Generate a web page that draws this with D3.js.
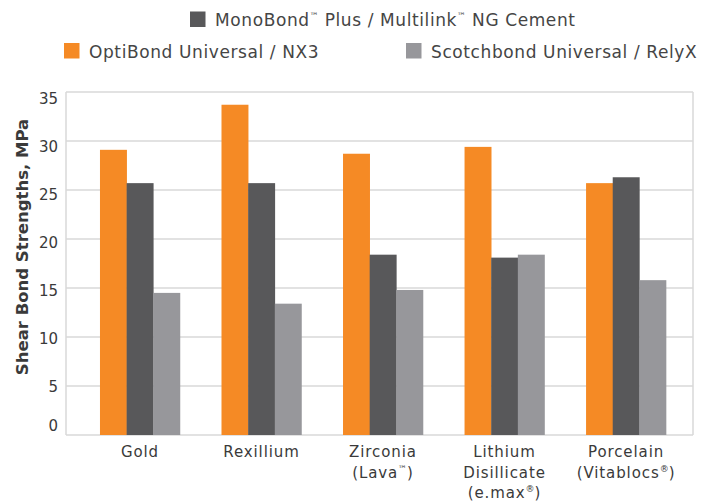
<!DOCTYPE html>
<html><head><meta charset="utf-8">
<script src="https://cdn.jsdelivr.net/npm/d3@7"></script>
<style>
html,body{margin:0;padding:0;background:#fff;}
svg{display:block;}
text{font-family:"DejaVu Sans","Open Sans",sans-serif;}
</style></head>
<body>
<script>
const categories = ["Gold","Rexillium","Zirconia (Lava™)","Lithium Disillicate (e.max®)","Porcelain (Vitablocs®)"];
const seriesNames = ["OptiBond Universal / NX3","MonoBond™ Plus / Multilink™ NG Cement","Scotchbond Universal / RelyX"];
const optiBond = [29.1, 33.7, 28.7, 29.4, 25.7];
const monoBond = [25.7, 25.7, 18.4, 18.1, 26.3];
const scotchbond = [14.5, 13.4, 14.8, 18.4, 15.8];
const yTicks = [0,5,10,15,20,25,30,35];
const colors = ["#F58A25","#58585A","#97979B"];

const W=711,H=504;
const svg=d3.select("body").append("svg").attr("width",W).attr("height",H);
const plot={left:66,right:693,top:92,bottom:435};
const y=d3.scaleLinear().domain([0,35]).range([plot.bottom,plot.top]);
const x=d3.scaleBand().domain(categories).range([78.1,687.9]).paddingInner(0.342).paddingOuter(0.18);
const xs=d3.scaleBand().domain([0,1,2]).range([0,x.bandwidth()]);
const grid="#d9d9d9";

// gridlines
svg.append("g").selectAll("line").data(yTicks).join("line")
 .attr("x1",plot.left).attr("x2",plot.right).attr("y1",d=>y(d)).attr("y2",d=>y(d))
 .attr("stroke",grid).attr("stroke-width",1.5);
// frame sides
svg.append("line").attr("x1",plot.left).attr("x2",plot.left).attr("y1",plot.top).attr("y2",plot.bottom).attr("stroke",grid).attr("stroke-width",1.5);
svg.append("line").attr("x1",plot.right).attr("x2",plot.right).attr("y1",plot.top).attr("y2",plot.bottom).attr("stroke",grid).attr("stroke-width",1.5);

const series=[optiBond,monoBond,scotchbond];
const g=svg.append("g");
series.forEach((vals,si)=>{
  g.selectAll(null).data(vals).join("rect")
   .attr("x",(d,i)=>x(categories[i])+xs(si))
   .attr("width",xs.bandwidth()+0.3)
   .attr("y",d=>y(d)).attr("height",d=>y(0)-y(d))
   .attr("fill",colors[si]);
});

// y tick labels
const yLab=d3.scaleLinear().domain([5,35]).range([387,99]);
svg.append("g").selectAll("text").data(yTicks).join("text")
 .attr("x",58).attr("y",d=>d===0?426:yLab(d)).attr("dy","0.36em")
 .attr("text-anchor","end").attr("font-size",15).attr("fill","#3a3a3a")
 .text(d=>d);

// y title
svg.append("text").attr("transform","translate(27.5,247) rotate(-90)")
 .attr("text-anchor","middle").attr("font-size",16.5).attr("font-weight","bold").attr("fill","#3a3a3a")
 .text("Shear Bond Strengths, MPa");

// x labels
const lineSets=[[["Gold"]],[["Rexillium"]],[["Zirconia"],["(Lava",["™"],")"]],[["Lithium"],["Disillicate"],["(e.max",["®"],")"]],[["Porcelain"],["(Vitablocs",["®"],")"]]];
lineSets.forEach((lines,i)=>{
  const cx=x(categories[i])+x.bandwidth()/2;
  lines.forEach((parts,li)=>{
    const t=svg.append("text").attr("x",cx).attr("y",457+li*20.7).attr("text-anchor","middle")
      .attr("font-size",15).attr("letter-spacing",0.9).attr("fill","#3a3a3a");
    parts.forEach(p=>{
      if(Array.isArray(p)) t.append("tspan").attr("font-size",9).attr("letter-spacing",0).attr("dy",-6).text(p[0]);
      else if(p===")" ) t.append("tspan").attr("dy",6).text(p);
      else t.append("tspan").text(p);
    });
  });
});

// legend
const legend=[
  {c:colors[1],x:190,y:11.5,parts:["MonoBond",["™"]," Plus / Multilink",["™"]," NG Cement"]},
  {c:colors[0],x:64,y:43,parts:["OptiBond Universal / NX3"]},
  {c:colors[2],x:406,y:43,parts:["Scotchbond Universal / RelyX"]}
];
legend.forEach(l=>{
  svg.append("rect").attr("x",l.x).attr("y",l.y).attr("width",15.5).attr("height",15.5).attr("fill",l.c);
  const t=svg.append("text").attr("x",l.x+25).attr("y",l.y+14.5).attr("font-size",17).attr("letter-spacing",0.6).attr("fill","#454545");
  let up=false;
  l.parts.forEach(p=>{
    if(Array.isArray(p)){t.append("tspan").attr("font-size",9).attr("letter-spacing",0).attr("dy",-7).text(p[0]);up=true;}
    else {const s=t.append("tspan").text(p); if(up){s.attr("dy",7);up=false;}}
  });
});
</script>
</body></html>
